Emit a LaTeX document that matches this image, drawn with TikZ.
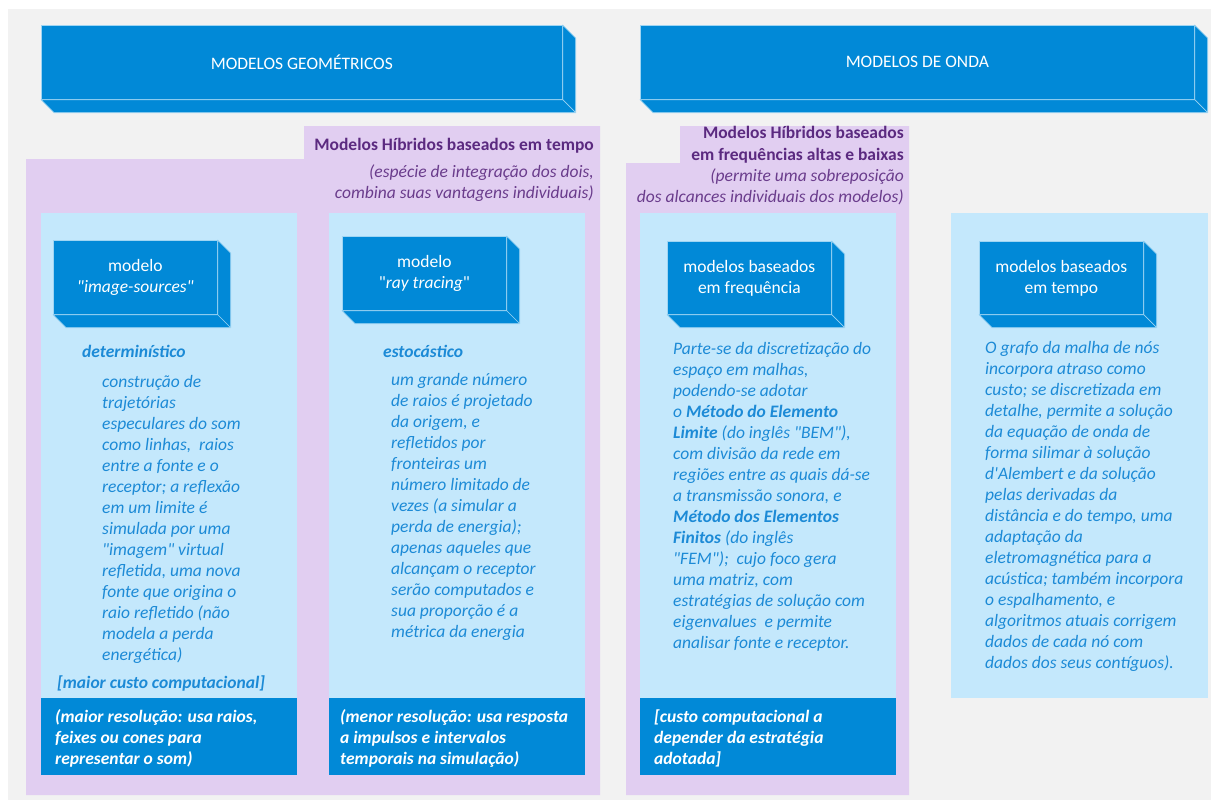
\documentclass[tikz,border=0pt]{standalone}
\usepackage{fontspec}
\setmainfont{Carlito}
\usepackage{xcolor}
\usepackage{tikz}
\usetikzlibrary{calc}
\definecolor{PageGray}{HTML}{F2F2F2}
\definecolor{HybLav}{HTML}{E1CEF1}
\definecolor{PanelBlue}{HTML}{C4E8FC}
\definecolor{ModBlue}{HTML}{0189D7}
\definecolor{CubeEdge}{HTML}{9FD5F3}
\definecolor{HybPurple}{HTML}{5B2A80}
\definecolor{NotePurple}{HTML}{6A3C8C}
\definecolor{BodyBlue}{HTML}{1C8AD6}
\newcommand{\dq}{\textquotedbl}

\begin{document}
\begin{tikzpicture}[
  x=1pt, y=-1pt,
  font=\fontsize{17.5}{21}\selectfont,
  cube/.style={draw=CubeEdge,line width=0.7pt,fill=ModBlue,text=white,align=center,
               inner sep=0pt,anchor=north west,minimum height=74pt},
  depth/.style={fill=ModBlue,draw=CubeEdge,line width=0.7pt,line join=round},
  hyb/.style={anchor=base east,align=right,inner sep=0pt,text=HybPurple,font=\fontsize{17.5}{21}\selectfont\bfseries},
  hybnote/.style={anchor=base east,align=right,inner sep=0pt,text=NotePurple,font=\fontsize{17.5}{21}\selectfont\itshape},
  body/.style={anchor=base west,align=left,inner sep=0pt,text=BodyBlue,font=\fontsize{17.5}{21}\selectfont\itshape},
  tag/.style={anchor=base west,align=left,inner sep=0pt,text=BodyBlue,font=\fontsize{17.5}{21}\selectfont\bfseries\itshape},
  cost/.style={anchor=base west,align=left,inner sep=0pt,text=white,font=\fontsize{17.5}{21}\selectfont\bfseries\itshape},
]
\useasboundingbox (0,0) rectangle (1211,800);
\fill[white] (0,0) rectangle (1211,800);
\fill[PageGray] (8,9) rectangle (1211,800);

% hybrid regions
\fill[HybLav] (304,126) -- (600,126) -- (600,795) -- (26,795) -- (26,159) -- (304,159) -- cycle;
\fill[HybLav] (680,126) -- (909,126) -- (909,795) -- (626,795) -- (626,163) -- (680,163) -- cycle;

% panels
\fill[PanelBlue] (41,213) rectangle (297,698);
\fill[PanelBlue] (329,213) rectangle (585,698);
\fill[PanelBlue] (640,213) rectangle (896,698);
\fill[PanelBlue] (951,213) rectangle (1208,698);
\fill[ModBlue] (41,698) rectangle (297,775);
\fill[ModBlue] (329,698) rectangle (585,775);
\fill[ModBlue] (640,698) rectangle (896,775);

% cuboids
\node[cube,minimum width=521pt] (geo)   at (41,25)   {MODELOS GEOMÉTRICOS};
\node[cube,minimum width=554pt] (onda)  at (640,25)  {MODELOS DE ONDA};
\node[cube,minimum width=164pt] (img)   at (53,240)  {modelo\\\textit{\dq image-sources\dq}};
\node[cube,minimum width=164pt] (ray)   at (342,236) {modelo\\\dq\textit{ray tracing}\dq};
\node[cube,minimum width=164pt,minimum height=73pt] (freq)  at (667,241) {modelos baseados\\em frequência};
\node[cube,minimum width=164pt,minimum height=73pt] (tempo) at (979,241) {modelos baseados\\em tempo};
\foreach \c in {geo,onda,img,ray,freq,tempo}
  \filldraw[depth] (\c.north east) -- ++(13,13) -- ($(\c.south east)+(13,13)$)
    -- ($(\c.south west)+(13,13)$) -- (\c.south west) -- (\c.south east) -- cycle
    (\c.south east) -- ++(13,13);

% hybrid labels
\node[hyb] (hybT) at (594,150) {Modelos Híbridos baseados em tempo};
\node[hybnote] (hybTn) at (594,198) {(espécie de integração dos dois,\\combina suas vantagens individuais)};
\node[hyb] (hybF) at (904,160) {Modelos Híbridos baseados\\em frequências altas e baixas};
\node[hybnote] (hybFn) at (904,202) {(permite uma sobreposição\\dos alcances individuais dos modelos)};

% column texts
\node[tag] (det) at (82,357) {determinístico};
\node[body] (imgtxt) at (102,660) {construção de\\trajetórias\\especulares do som\\como linhas,\ \ raios\\entre a fonte e o\\receptor; a reflexão\\em um limite é\\simulada por uma\\\dq imagem\dq{} virtual\\refletida, uma nova\\fonte que origina o\\raio refletido (não\\modela a perda\\energética)};
\node[tag] (imgcost) at (57,688) {[maior custo computacional]};
\node[cost] (imgres) at (55,764) {(maior resolução: usa raios,\\feixes ou cones para\\representar o som)};

\node[tag] (est) at (383,357) {estocástico};
\node[body] (raytxt) at (391,637) {um grande número\\de raios é projetado\\da origem, e\\refletidos por\\fronteiras um\\número limitado de\\vezes (a simular a\\perda de energia);\\apenas aqueles que\\alcançam o receptor\\serão computados e\\sua proporção é a\\métrica da energia};
\node[cost] (rayres) at (340,764) {(menor resolução: usa resposta\\a impulsos e intervalos\\temporais na simulação)};

\node[body] (freqtxt) at (673,648) {Parte-se da discretização do\\espaço em malhas,\\podendo-se adotar\\o \textbf{Método do Elemento}\\\textbf{Limite} (do inglês \dq BEM\dq),\\com divisão da rede em\\regiões entre as quais dá-se\\a transmissão sonora, e\\\textbf{Método dos Elementos}\\\textbf{Finitos} (do inglês\\\dq FEM\dq);\ \ cujo foco gera\\uma matriz, com\\estratégias de solução com\\eigenvalues\ \ e permite\\analisar fonte e receptor.};
\node[cost] (freqcost) at (654,764) {[custo computacional a\\depender da estratégia\\adotada]};

\node[body] (tempotxt) at (985,668) {O grafo da malha de nós\\incorpora atraso como\\custo; se discretizada em\\detalhe, permite a solução\\da equação de onda de\\forma silimar à solução\\d\textquotesingle Alembert e da solução\\pelas derivadas da\\distância e do tempo, uma\\adaptação da\\eletromagnética para a\\acústica; também incorpora\\o espalhamento, e\\algoritmos atuais corrigem\\dados de cada nó com\\dados dos seus contíguos).};
\end{tikzpicture}
\end{document}
